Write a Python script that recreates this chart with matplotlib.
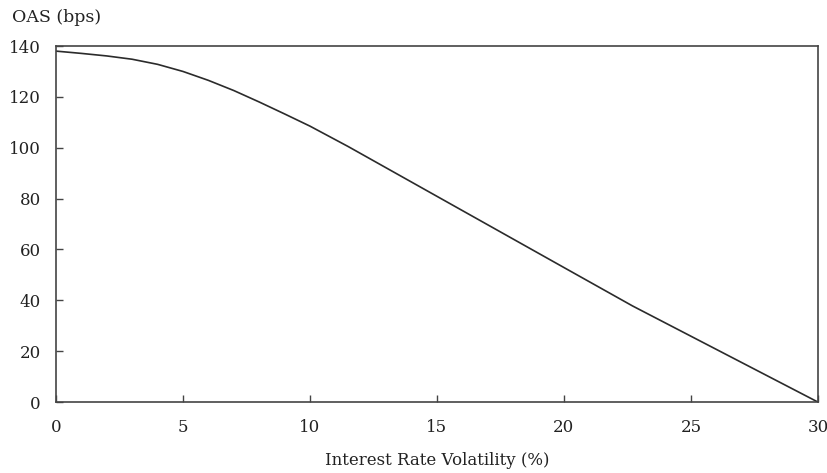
import matplotlib
matplotlib.use("Agg")
import matplotlib.pyplot as plt

# Option-adjusted spread versus assumed interest rate volatility
volatility = [0, 1, 2, 3, 4, 5, 6, 7, 8, 9, 10, 11.5, 15, 20, 22.7, 30]
oas_bps = [138, 137.1, 136.1, 134.8, 132.8, 130, 126.5, 122.5, 118, 113.3, 108.5,
           100.5, 80.9, 52.9, 37.8, 0]

x_ticks = [0, 5, 10, 15, 20, 25, 30]
y_ticks = [0, 20, 40, 60, 80, 100, 120, 140]

plt.rcParams["font.family"] = ["DejaVu Serif"]
plt.rcParams["font.size"] = 12

fig = plt.figure(figsize=(8.27, 4.73), dpi=100)
ax = fig.add_axes([0.0677, 0.150, 0.9213, 0.7527])

ax.plot(volatility, oas_bps, color="#2b2b2b", linewidth=1.2)

ax.set_xlim(0, 30)
ax.set_ylim(0, 140)
ax.set_xticks(x_ticks)
ax.set_yticks(y_ticks)
ax.tick_params(direction="in", length=5, width=1.0, color="#444444",
               labelcolor="#222222")
ax.tick_params(axis="x", pad=12)
ax.tick_params(axis="y", pad=11)
for s in ax.spines.values():
    s.set_color("#444444")
    s.set_linewidth(1.2)

ax.set_xlabel("Interest Rate Volatility (%)", color="#222222", labelpad=12)
fig.text(12 / 827, 1 - 17 / 473, "OAS (bps)", color="#222222",
         ha="left", va="center", fontsize=12.5)

fig.savefig("out.png", dpi=100)
